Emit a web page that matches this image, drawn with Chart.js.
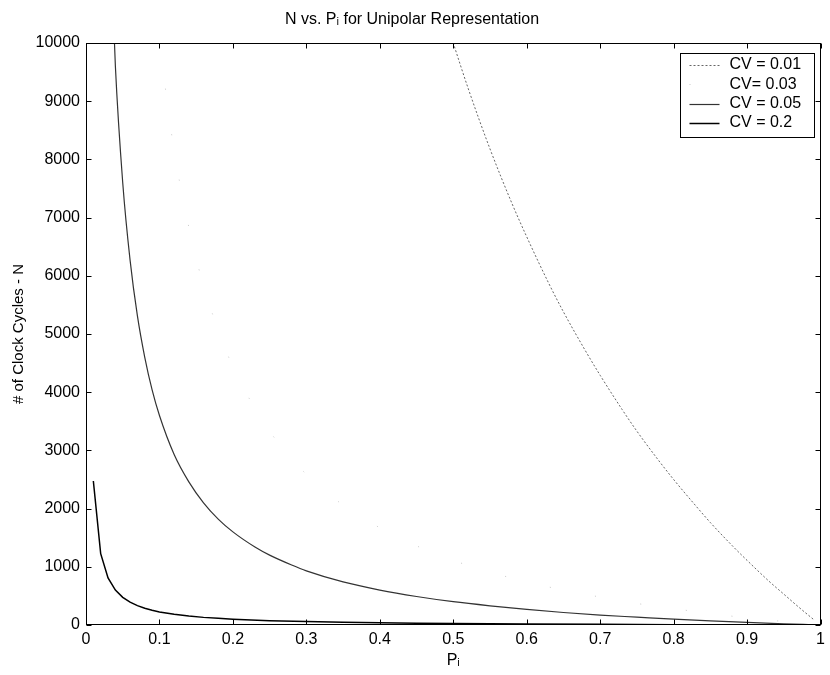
<!DOCTYPE html>
<html>
<head>
<meta charset="utf-8">
<script src="https://cdn.jsdelivr.net/npm/chart.js@4.4.1/dist/chart.umd.min.js"></script>
<style>
  html, body { margin: 0; padding: 0; background: #fff; }
  canvas { display: block; }
</style>
</head>
<body>
<canvas id="c" width="830" height="675"></canvas>
<script>
// ---- data ----
const seriesLabels = ["CV = 0.01", "CV= 0.03", "CV = 0.05", "CV = 0.2"];

const p_cv001 = [0.49, 0.50, 0.52, 0.55, 0.58, 0.60, 0.63, 0.65, 0.68, 0.70, 0.73, 0.75, 0.78, 0.80, 0.83, 0.85, 0.88, 0.90, 0.93, 0.95, 0.97, 0.99];
const n_cv001 = [10400, 10000, 9230, 8180, 7240, 6670, 5870, 5380, 4710, 4290, 3700, 3330, 2820, 2500, 2050, 1760, 1360, 1110, 750, 530, 310, 100];

const p_cv003 = [0.10, 0.12, 0.15, 0.18, 0.20, 0.23, 0.25, 0.27, 0.30, 0.35, 0.40, 0.45, 0.50, 0.55, 0.60, 0.65, 0.70, 0.75, 0.80, 0.85, 0.90, 0.95, 0.99];
const n_cv003 = [10000, 8150, 6300, 5060, 4440, 3720, 3330, 3000, 2590, 2060, 1670, 1360, 1110, 910, 740, 600, 480, 370, 280, 200, 120, 60, 10];

const p_cv005 = [0.03, 0.04, 0.05, 0.06, 0.07, 0.08, 0.09, 0.10, 0.12, 0.14, 0.16, 0.18, 0.20, 0.23, 0.25, 0.28, 0.30, 0.35, 0.40, 0.45, 0.50, 0.55, 0.60, 0.65, 0.70, 0.75, 0.80, 0.85, 0.90, 0.95, 0.99];
const n_cv005 = [12900, 9600, 7600, 6270, 5310, 4600, 4040, 3600, 2930, 2460, 2100, 1820, 1600, 1340, 1200, 1030, 930, 740, 600, 490, 400, 330, 270, 215, 170, 135, 100, 70, 45, 20, 4];

const p_cv02 = [0.01, 0.02, 0.03, 0.04, 0.05, 0.06, 0.07, 0.08, 0.09, 0.10, 0.12, 0.14, 0.16, 0.18, 0.20, 0.25, 0.30, 0.35, 0.40, 0.45, 0.50, 0.55, 0.60, 0.70, 0.80, 0.90, 0.99];
const n_cv02 = [2475, 1225, 808, 600, 475, 392, 332, 288, 253, 225, 183, 154, 131, 114, 100, 75, 58, 46, 38, 31, 25, 20, 17, 11, 6, 3, 0];

const xTicks = [0, 0.1, 0.2, 0.3, 0.4, 0.5, 0.6, 0.7, 0.8, 0.9, 1];
const yTicks = [0, 1000, 2000, 3000, 4000, 5000, 6000, 7000, 8000, 9000, 10000];

const zip = (xs, ys) => xs.map((x, i) => ({ x: x, y: ys[i] }));
const FONT = "'Liberation Sans', Arial, Helvetica, sans-serif";

const frameAndLegend = {
  id: 'frameAndLegend',
  afterDraw(chart) {
    const { ctx, chartArea: a, scales: { x, y } } = chart;
    ctx.save();
    ctx.strokeStyle = '#000';
    ctx.lineWidth = 1;
    ctx.setLineDash([]);
    const L = Math.round(a.left) + 0.5, R = Math.round(a.right) - 0.5;
    const T = Math.round(a.top) + 0.5, B = Math.round(a.bottom) - 0.5;
    ctx.strokeRect(L, T, R - L, B - T);
    const tl = 5;
    ctx.beginPath();
    xTicks.forEach(v => {
      const px = Math.round(x.getPixelForValue(v)) + 0.5;
      ctx.moveTo(px, B); ctx.lineTo(px, B - tl);
      ctx.moveTo(px, T); ctx.lineTo(px, T + tl);
    });
    yTicks.forEach(v => {
      const py = Math.round(y.getPixelForValue(v)) + 0.5;
      ctx.moveTo(L, py); ctx.lineTo(L + tl, py);
      ctx.moveTo(R, py); ctx.lineTo(R - tl, py);
    });
    ctx.stroke();

    // legend box inside plot (top-right)
    const bx = Math.round(a.right - 141) + 0.5, by = Math.round(a.top + 10) + 0.5;
    const bw = 134, bh = 84;
    ctx.fillStyle = '#fff';
    ctx.fillRect(bx, by, bw, bh);
    ctx.strokeStyle = '#000';
    ctx.lineWidth = 1;
    ctx.strokeRect(bx, by, bw, bh);
    ctx.font = '16px ' + FONT;
    ctx.textBaseline = 'middle';
    ctx.textAlign = 'left';
    chart.data.datasets.forEach((ds, i) => {
      const ry = by + 11.5 + i * 19.3;
      ctx.save();
      ctx.strokeStyle = ds.borderColor;
      ctx.lineWidth = ds.borderWidth;
      ctx.setLineDash(ds.borderDash || []);
      ctx.beginPath();
      ctx.moveTo(bx + 9, Math.round(ry) + 0.5);
      ctx.lineTo(bx + 39, Math.round(ry) + 0.5);
      ctx.stroke();
      ctx.restore();
      ctx.fillStyle = '#000';
      ctx.fillText(ds.label, bx + 49, ry);
    });
    ctx.restore();
  }
};

new Chart(document.getElementById('c'), {
  type: 'line',
  data: {
    datasets: [
      { label: seriesLabels[0], data: zip(p_cv001, n_cv001), borderColor: '#666', borderWidth: 1, borderDash: [2, 2], cubicInterpolationMode: 'monotone' },
      { label: seriesLabels[1], data: zip(p_cv003, n_cv003), borderColor: '#c8c8c8', borderWidth: 1, borderDash: [1, 45], cubicInterpolationMode: 'monotone' },
      { label: seriesLabels[2], data: zip(p_cv005, n_cv005), borderColor: '#333', borderWidth: 1.2, cubicInterpolationMode: 'monotone' },
      { label: seriesLabels[3], data: zip(p_cv02, n_cv02), borderColor: '#000', borderWidth: 1.5, tension: 0 }
    ]
  },
  options: {
    responsive: false,
    animation: false,
    elements: { point: { radius: 0, hoverRadius: 0 } },
    layout: { padding: { left: 0, right: 6, top: 0, bottom: 0 } },
    plugins: {
      legend: { display: false },
      tooltip: { enabled: false },
      title: {
        display: true,
        text: 'N vs. Pᵢ for Unipolar Representation',
        color: '#000',
        font: { family: FONT, size: 16, weight: 'normal', lineHeight: 1.2 },
        padding: { top: 10, bottom: 13.8 }
      }
    },
    scales: {
      x: {
        type: 'linear', min: 0, max: 1,
        afterBuildTicks: s => { s.ticks = xTicks.map(v => ({ value: v })); },
        afterFit: s => { s.height = 50; },
        grid: { display: false, drawTicks: false },
        border: { display: false },
        ticks: { color: '#000', padding: 5, maxRotation: 0, font: { family: FONT, size: 16 },
                 callback: v => String(Number(v.toFixed(1))) },
        title: { display: true, text: 'Pᵢ', color: '#000', font: { family: FONT, size: 16 }, padding: { top: 0, bottom: 5 } }
      },
      y: {
        type: 'linear', min: 0, max: 10000,
        afterBuildTicks: s => { s.ticks = yTicks.map(v => ({ value: v })); },
        afterFit: s => { s.width = 86; },
        grid: { display: false, drawTicks: false },
        border: { display: false },
        ticks: { color: '#000', padding: 6, font: { family: FONT, size: 16 }, callback: v => String(v) },
        title: { display: true, text: '# of Clock Cycles - N', color: '#000', font: { family: FONT, size: 15 }, padding: { top: 10, bottom: 0 } }
      }
    }
  },
  plugins: [frameAndLegend]
});
</script>
</body>
</html>
